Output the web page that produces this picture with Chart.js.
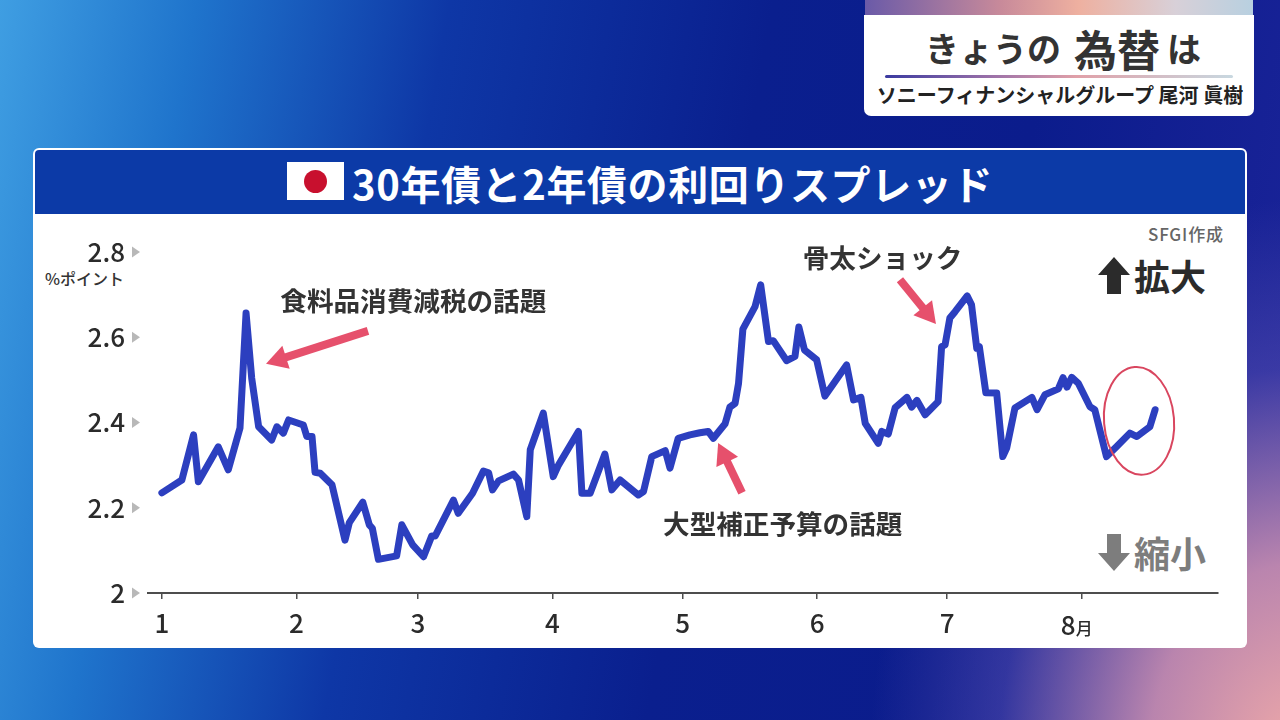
<!DOCTYPE html>
<html lang="ja">
<head>
<meta charset="utf-8">
<script src="https://cdn.jsdelivr.net/npm/chart.js@4.4.1/dist/chart.umd.min.js"></script>
<style>
html,body{margin:0;padding:0;width:1280px;height:720px;overflow:hidden;font-family:"Noto Sans CJK JP","Noto Sans",sans-serif;}
#bg{position:absolute;left:0;top:0;width:1280px;height:720px;
 background:
  radial-gradient(ellipse 430px 560px at 1300px 760px, rgba(240,170,168,1) 0%, rgba(214,150,178,0.85) 35%, rgba(120,100,190,0.35) 70%, rgba(40,40,160,0) 100%),
  linear-gradient(100deg,#3f9ee2 0%,#1f74cc 14%,#0e37a6 32%,#0a1f8e 55%,#0b1c8c 75%,#1c249a 100%);}
#strip{position:absolute;left:865px;top:0;width:388px;height:17px;background:linear-gradient(90deg,#6a5aa8 0%,#c88a9a 35%,#eeb0a0 55%,#d8d0d8 80%,#b8d0e0 100%);}
#cap{position:absolute;left:864px;top:15px;width:390px;height:101px;background:#fff;border-radius:0 0 7px 7px;}
#capTitle{position:absolute;left:61px;top:10px;height:46px;display:flex;align-items:center;font-weight:700;color:#333;white-space:nowrap;}
#capTitle span{display:inline-block;line-height:46px;}
#capTitle .s{font-size:34px;} #capTitle .b{font-size:43px;margin:0 7px 0 13px;}
#capLine{position:absolute;left:21px;top:60px;width:348px;height:3px;border-radius:2px;background:linear-gradient(90deg,#3a3aa0 0%,#9a70a8 30%,#e0a0a8 55%,#c8d8e0 100%);}
#capSub{position:absolute;left:0;top:67px;width:392px;height:26px;line-height:26px;text-align:center;font-size:20px;font-weight:700;color:#222;white-space:nowrap;}
#panel{position:absolute;left:33px;top:148px;width:1214px;height:500px;background:#fff;border-radius:6px;}
#bar{position:absolute;left:35px;top:150px;width:1210px;height:64px;background:#0c3aa7;border-radius:4px 4px 0 0;}
#flag{position:absolute;left:287px;top:162px;width:57px;height:38px;background:#fff;}
#flag i{position:absolute;left:17px;top:8px;width:23px;height:23px;border-radius:50%;background:#c8102e;}
#title{position:absolute;left:352px;top:157px;height:52px;line-height:52px;font-size:40px;letter-spacing:0.6px;font-weight:700;color:#fff;white-space:nowrap;}
.t{position:absolute;white-space:nowrap;}
#chartWrap{position:absolute;left:0;top:0;width:1280px;height:720px;z-index:2;}
</style>
</head>
<body>
<div id="bg"></div>
<div id="strip"></div>
<div id="cap">
  <div id="capTitle"><span class="s">きょうの</span><span class="b">為替</span><span class="s">は</span></div>
  <div id="capLine"></div>
  <div id="capSub">ソニーフィナンシャルグループ 尾河 眞樹</div>
</div>
<div id="panel"></div>
<div id="bar"></div>
<div id="flag"><i></i></div>
<div id="title">30年債と2年債の利回りスプレッド</div>
<div class="t" style="left:45px;top:267px;font-size:16px;line-height:22px;color:#333;font-weight:500;">%ポイント</div>
<div class="t" style="left:1148px;top:223px;font-size:17px;line-height:22px;color:#666;font-weight:500;letter-spacing:0.8px;">SFGI作成</div>
<svg class="t" style="left:1098px;top:257px;" width="32" height="37" viewBox="0 0 32 37"><path d="M16 0 L32 18 L23 18 L23 37 L9 37 L9 18 L0 18 Z" fill="#2b2b2b"/></svg>
<div class="t" style="left:1134px;top:255px;font-size:36px;line-height:40px;font-weight:700;color:#2b2b2b;">拡大</div>
<svg class="t" style="left:1098px;top:534px;" width="32" height="37" viewBox="0 0 32 37"><path d="M16 37 L32 19 L23 19 L23 0 L9 0 L9 19 L0 19 Z" fill="#7d7d7d"/></svg>
<div class="t" style="left:1134px;top:532px;font-size:36px;line-height:40px;font-weight:700;color:#7d7d7d;">縮小</div>
<div id="chartWrap"><canvas id="c" width="1280" height="720"></canvas></div>
<script>
// ---- data (x = day of year 2025, Jan 1 = 0; y = 30y-2y JGB spread, %pt) ----
const monthTickDays = [0, 31, 59, 90, 120, 151, 181, 212];
const monthTickLabels = ['1', '2', '3', '4', '5', '6', '7', '8'];
const yTickValues = [2, 2.2, 2.4, 2.6, 2.8];
const days = [0,4.6,7.3,8.4,13.0,15.3,18.0,19.4,20.7,22.3,
25.3,26.5,28.0,29.2,32.6,33.4,34.6,35.3,36.5,39.2,
42.2,43.2,46.3,47.8,48.5,49.9,54.1,55.3,57.8,60.3,
62.2,63.0,67.2,68.3,71.6,74.1,75.3,76.2,77.6,81.0,
82.2,84.1,84.9,87.9,90.2,91.4,96.0,96.8,98.7,102.1,
103.7,105.6,109.8,111.0,112.9,116.0,117.1,119.0,121.7,124.0,
125.9,127.1,129.8,130.9,132.1,132.9,133.9,136.7,138.0,139.8,
140.9,144.0,145.9,146.8,148.1,150.9,152.8,157.8,159.4,161.1,
162.1,165.1,165.9,167.4,169.0,171.7,172.8,174.0,175.9,178.9,
179.7,180.5,181.6,182.8,185.6,186.6,187.8,188.4,189.9,192.4,
193.8,194.7,196.6,200.5,201.7,203.5,206.6,207.7,208.6,209.7,
211.2,213.9,215.0,217.7,220.0,223.1,224.7,227.7,228.9];
const spread = [2.235,2.265,2.371,2.261,2.343,2.289,2.387,2.657,2.504,2.39,
2.359,2.39,2.375,2.406,2.394,2.367,2.367,2.283,2.281,2.254,
2.124,2.165,2.213,2.16,2.152,2.079,2.087,2.16,2.113,2.085,
2.134,2.134,2.218,2.187,2.234,2.286,2.282,2.242,2.263,2.279,
2.265,2.179,2.336,2.422,2.273,2.30,2.379,2.234,2.234,2.326,
2.242,2.265,2.23,2.238,2.32,2.334,2.293,2.363,2.371,2.376,
2.379,2.363,2.397,2.436,2.445,2.492,2.619,2.672,2.723,2.59,
2.592,2.545,2.555,2.624,2.57,2.547,2.462,2.535,2.453,2.459,
2.398,2.351,2.379,2.373,2.435,2.459,2.436,2.452,2.418,2.449,
2.578,2.582,2.645,2.66,2.697,2.676,2.574,2.578,2.47,2.469,
2.32,2.34,2.434,2.459,2.43,2.465,2.479,2.505,2.483,2.506,
2.492,2.437,2.43,2.32,2.343,2.375,2.367,2.39,2.43];

// ---- annotations, anchored in data units (day, spread) ----
const noteTexts = ['食料品消費減税の話題', '大型補正予算の話題', '骨太ショック'];
const noteAnchors = [[27.3, 2.685], [115.5, 2.162], [147.7, 2.786]];
const arrowFrom = [[47.5, 2.615], [133.7, 2.235], [170.1, 2.735]];
const arrowTo = [[24.0, 2.538], [128.2, 2.352], [178.4, 2.631]];
const ringCenter = [225.2, 2.404];

const FONT = '"Noto Sans CJK JP","Noto Sans",sans-serif';

function drawArrow(ctx, x1, y1, x2, y2) {
  const a = Math.atan2(y2 - y1, x2 - x1);
  const hl = 21, hw = 12;
  const bx = x2 - hl * Math.cos(a), by = y2 - hl * Math.sin(a);
  ctx.save();
  ctx.strokeStyle = '#e6506c';
  ctx.fillStyle = '#e6506c';
  ctx.lineWidth = 8;
  ctx.lineCap = 'butt';
  ctx.beginPath();
  ctx.moveTo(x1, y1);
  ctx.lineTo(bx + 2 * Math.cos(a), by + 2 * Math.sin(a));
  ctx.stroke();
  ctx.beginPath();
  ctx.moveTo(x2, y2);
  ctx.lineTo(bx + hw * Math.sin(a), by - hw * Math.cos(a));
  ctx.lineTo(bx - hw * Math.sin(a), by + hw * Math.cos(a));
  ctx.closePath();
  ctx.fill();
  ctx.restore();
}

const decor = {
  id: 'decor',
  afterDraw(chart) {
    const ctx = chart.ctx, xs = chart.scales.x, ys = chart.scales.y, ca = chart.chartArea;
    ctx.save();
    // y tick triangles
    ctx.fillStyle = '#b8b8b8';
    ys.ticks.forEach(t => {
      const py = ys.getPixelForValue(t.value);
      ctx.beginPath();
      ctx.moveTo(ca.left - 16, py - 5.5);
      ctx.lineTo(ca.left - 8, py);
      ctx.lineTo(ca.left - 16, py + 5.5);
      ctx.closePath();
      ctx.fill();
    });
    // last month label "8月" with small 月
    const lastX = xs.getPixelForValue(monthTickDays[monthTickDays.length - 1]);
    const ly = ca.bottom + 32;
    ctx.fillStyle = '#2b2b2b';
    ctx.textBaseline = 'middle';
    ctx.font = '500 26px ' + FONT;
    const w1 = ctx.measureText(monthTickLabels[monthTickLabels.length - 1]).width;
    ctx.font = '500 17px ' + FONT;
    const w2 = ctx.measureText('月').width;
    const sx = lastX - (w1 + w2) / 2 - 5;
    ctx.textAlign = 'left';
    ctx.font = '500 26px ' + FONT;
    ctx.fillText(monthTickLabels[monthTickLabels.length - 1], sx, ly);
    ctx.font = '500 17px ' + FONT;
    ctx.fillText('月', sx + w1, ly + 4);
    // notes
    ctx.font = '700 26.6px ' + FONT;
    ctx.fillStyle = '#333333';
    noteTexts.forEach((s, i) => {
      ctx.fillText(s, xs.getPixelForValue(noteAnchors[i][0]), ys.getPixelForValue(noteAnchors[i][1]));
    });
    // arrows
    arrowFrom.forEach((f, i) => {
      drawArrow(ctx, xs.getPixelForValue(f[0]), ys.getPixelForValue(f[1]),
        xs.getPixelForValue(arrowTo[i][0]), ys.getPixelForValue(arrowTo[i][1]));
    });
    // ring
    ctx.strokeStyle = '#d9465f';
    ctx.lineWidth = 2;
    ctx.beginPath();
    ctx.ellipse(xs.getPixelForValue(ringCenter[0]), ys.getPixelForValue(ringCenter[1]), 35, 54, -0.08, 0, Math.PI * 2);
    ctx.stroke();
    ctx.restore();
  }
};

new Chart(document.getElementById('c'), {
  type: 'line',
  data: {
    datasets: [{
      data: days.map((d, i) => ({ x: d, y: spread[i] })),
      borderColor: '#2c3fbf',
      borderWidth: 7,
      pointRadius: 0,
      tension: 0,
      borderCapStyle: 'round',
      borderJoinStyle: 'round',
      clip: false
    }]
  },
  options: {
    responsive: false,
    animation: false,
    layout: { padding: { left: 88, top: 252, right: 62, bottom: 67 } },
    plugins: { legend: { display: false }, tooltip: { enabled: false } },
    scales: {
      x: {
        type: 'linear', min: -3.2, max: 243.4,
        afterBuildTicks: s => { s.ticks = monthTickDays.map(v => ({ value: v })); },
        afterFit: s => { s.height = 60; },
        border: { display: true, color: '#4d4d4d', width: 2 },
        grid: { display: true, drawOnChartArea: false, drawTicks: true, tickLength: 6, color: '#4d4d4d', lineWidth: 1.5 },
        ticks: {
          padding: 9, color: '#2b2b2b', maxRotation: 0, autoSkip: false,
          font: { family: FONT, size: 26, weight: '500' },
          callback: v => { const i = monthTickDays.indexOf(v); return i === monthTickLabels.length - 1 ? '' : monthTickLabels[i]; }
        }
      },
      y: {
        min: 2, max: 2.8,
        afterBuildTicks: s => { s.ticks = yTickValues.map(v => ({ value: v })); },
        afterFit: s => { s.width = 60; },
        border: { display: false },
        grid: { display: false, drawTicks: false },
        ticks: {
          padding: 23, color: '#2b2b2b',
          font: { family: FONT, size: 26, weight: '500' },
          callback: v => (v === 2 ? '2' : v.toFixed(1))
        }
      }
    }
  },
  plugins: [decor]
});
</script>
</body>
</html>
